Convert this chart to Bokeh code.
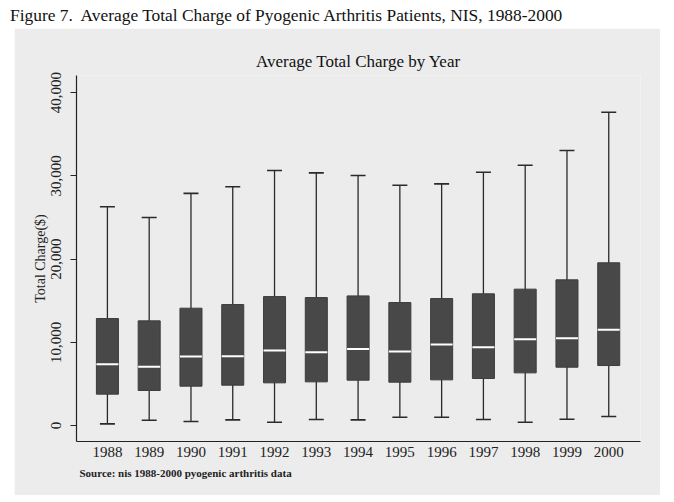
import numpy as np
from bokeh.plotting import figure
from bokeh.models import (ColumnDataSource, Range1d, FixedTicker, NumeralTickFormatter,
                          Title, Div, Whisker, TeeHead)
from bokeh.layouts import column
from bokeh.embed import file_html
from bokeh.resources import INLINE

# Yearly distribution of total charges (US$)
years = [1988, 1989, 1990, 1991, 1992, 1993, 1994, 1995, 1996, 1997, 1998, 1999, 2000]
year_labels = ["1988", "1989", "1990", "1991", "1992", "1993", "1994",
               "1995", "1996", "1997", "1998", "1999", "2000"]
whisker_low = [200, 640, 480, 680, 400, 720, 680, 1000, 1000, 720, 400, 760, 1080]
quartile_1 = [3770, 4210, 4730, 4850, 5130, 5250, 5450, 5210, 5490, 5650, 6330, 7010, 7210]
median = [7370, 7050, 8290, 8330, 9010, 8810, 9210, 8890, 9740, 9410, 10370, 10490, 11500]
quartile_3 = [12860, 12580, 14100, 14540, 15500, 15380, 15580, 14780, 15260, 15830, 16390, 17510, 19560]
whisker_high = [26300, 25000, 27900, 28700, 30650, 30370, 30050, 28880, 29050, 30450, 31290, 33050, 37660]
y_ticks = [0, 10000, 20000, 30000, 40000]

BG = "#ececec"
SERIF = "Liberation Serif"
BOX_W = 0.527

yr = np.array(years, dtype=float)
src = ColumnDataSource(dict(
    year=yr, low=whisker_low, q1=quartile_1, med=median, q3=quartile_3, high=whisker_high,
    m0=yr - BOX_W / 2, m1=yr + BOX_W / 2,
))

p = figure(width=646, height=467,
           x_range=Range1d(1987.26, 2000.76), y_range=Range1d(-1920, 42070),
           output_backend="svg", toolbar_location=None,
           min_border_left=62, min_border_right=20, min_border_top=47, min_border_bottom=54,
           background_fill_color=BG, border_fill_color=BG, outline_line_color=None,
           margin=(0, 0, 0, 14))

p.title.text = "Average Total Charge by Year"
p.title.align = "center"
p.title.text_font = SERIF
p.title.text_font_size = "17px"
p.title.text_font_style = "normal"
p.title.text_color = "#111111"

# whiskers with end caps
wh = Whisker(source=src, base="year", lower="low", upper="high", dimension="height",
             line_color="#2a2a2a", line_width=1.3, level="underlay",
             lower_head=TeeHead(size=15, line_color="#2a2a2a", line_width=1.6),
             upper_head=TeeHead(size=15, line_color="#2a2a2a", line_width=1.6))
p.add_layout(wh)

# interquartile boxes
p.vbar(x="year", bottom="q1", top="q3", width=BOX_W, source=src,
       fill_color="#484848", line_color="#3c3c3c", line_width=1)

# medians
p.segment(x0="m0", y0="med", x1="m1", y1="med", source=src,
          line_color="white", line_width=2)

p.xgrid.visible = False
p.ygrid.visible = False

p.xaxis.ticker = FixedTicker(ticks=years)
p.xaxis.major_label_overrides = {y: s for y, s in zip(years, year_labels)}
p.xaxis.major_tick_out = 0
p.xaxis.major_tick_in = 0
p.xaxis.minor_tick_line_color = None

p.yaxis.ticker = FixedTicker(ticks=y_ticks)
p.yaxis.formatter = NumeralTickFormatter(format="0,0")
p.yaxis.major_label_orientation = "vertical"
p.yaxis.major_label_standoff = 9
p.yaxis.major_tick_out = 6
p.yaxis.major_tick_in = 0
p.yaxis.minor_tick_line_color = None
p.yaxis.axis_label = "Total Charge($)"
p.yaxis.axis_label_text_font = SERIF
p.yaxis.axis_label_text_font_size = "14px"
p.yaxis.axis_label_text_font_style = "normal"
p.yaxis.axis_label_text_color = "#222222"
p.yaxis.axis_label_standoff = 1

for ax in (p.xaxis, p.yaxis):
    ax.axis_line_color = "#222222"
    ax.axis_line_width = 1.2
    ax.major_tick_line_color = "#222222"
    ax.major_label_text_font = SERIF
    ax.major_label_text_font_size = "15px"
    ax.major_label_text_color = "#222222"

src_note = Title(text="Source: nis 1988-2000 pyogenic arthritis data", align="left",
                 text_font=SERIF, text_font_size="11px", text_font_style="bold",
                 text_color="#222222", offset=3)
p.add_layout(src_note, "below")

caption = Div(text="Figure 7.&nbsp; Average Total Charge of Pyogenic Arthritis Patients, NIS, 1988-2000",
              width=674, height=28, margin=(0, 0, 0, 0),
              styles={"font-family": SERIF, "font-size": "17.4px", "line-height": "17px",
                      "padding-left": "10px", "padding-top": "7px", "color": "#111111",
                      "background-color": "white"})

layout = column(caption, p, spacing=0)

open("out.html", "w").write(file_html(layout, INLINE))
